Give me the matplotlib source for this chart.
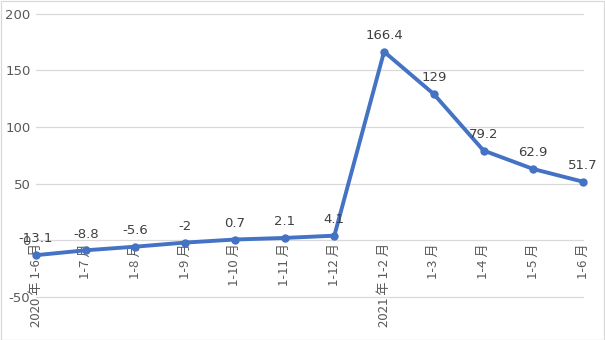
import matplotlib
matplotlib.use("Agg")
import matplotlib.pyplot as plt
from matplotlib.patches import Rectangle
from matplotlib.transforms import offset_copy

plt.rcParams['font.family'] = ['Noto Sans CJK SC', 'DejaVu Sans']

categories = ["2020 年 1-6 月", "1-7 月", "1-8 月", "1-9 月", "1-10 月", "1-11 月",
              "1-12 月", "2021 年 1-2 月", "1-3 月", "1-4 月", "1-5 月", "1-6 月"]
values = [-13.1, -8.8, -5.6, -2, 0.7, 2.1, 4.1, 166.4, 129, 79.2, 62.9, 51.7]
value_labels = ["-13.1", "-8.8", "-5.6", "-2", "0.7", "2.1", "4.1", "166.4", "129", "79.2", "62.9", "51.7"]
yticks = [-50, 0, 50, 100, 150, 200]

fig = plt.figure(figsize=(6.05, 3.40), dpi=100)
fig.patches.append(Rectangle((0.001, 0.001), 0.997, 0.996, transform=fig.transFigure,
                             fill=False, edgecolor="#D9D9D9", linewidth=0.9))
ax = fig.add_axes([0.0595, 0.1265, 0.9041, 0.8335])

x = list(range(len(categories)))
ax.plot(x, values, color="#4472C4", linewidth=2.8, marker="o", markersize=5,
        zorder=3, solid_capstyle="round", clip_on=False)

ax.set_xlim(0, len(categories) - 1)
ax.set_ylim(-50, 200)
ax.set_yticks(yticks)
ax.set_yticklabels([str(v) for v in yticks], fontsize=9.5, color="#595959", family="DejaVu Sans")
ax.tick_params(axis="y", length=0, pad=4)
ax.set_xticks([])
ax.grid(axis="y", color="#D9D9D9", linewidth=0.9)
for gl in ax.get_ygridlines():
    gl.set_clip_on(False)
ax.set_axisbelow(True)
for s in ax.spines.values():
    s.set_visible(False)

for i, (v, lab) in enumerate(zip(values, value_labels)):
    t = offset_copy(ax.transData, fig=fig, x=0, y=7, units="points")
    ax.text(i, v, lab, transform=t, ha="center", va="bottom", fontsize=9.5,
            color="#404040", family="DejaVu Sans", zorder=4)

for i, c in enumerate(categories):
    t = offset_copy(ax.transData, fig=fig, x=0, y=-2, units="points")
    ax.text(i, 0, c, transform=t, ha="center", va="top", rotation=90, fontsize=9.5,
            color="#595959", zorder=2)

fig.savefig("out.png", dpi=100)
